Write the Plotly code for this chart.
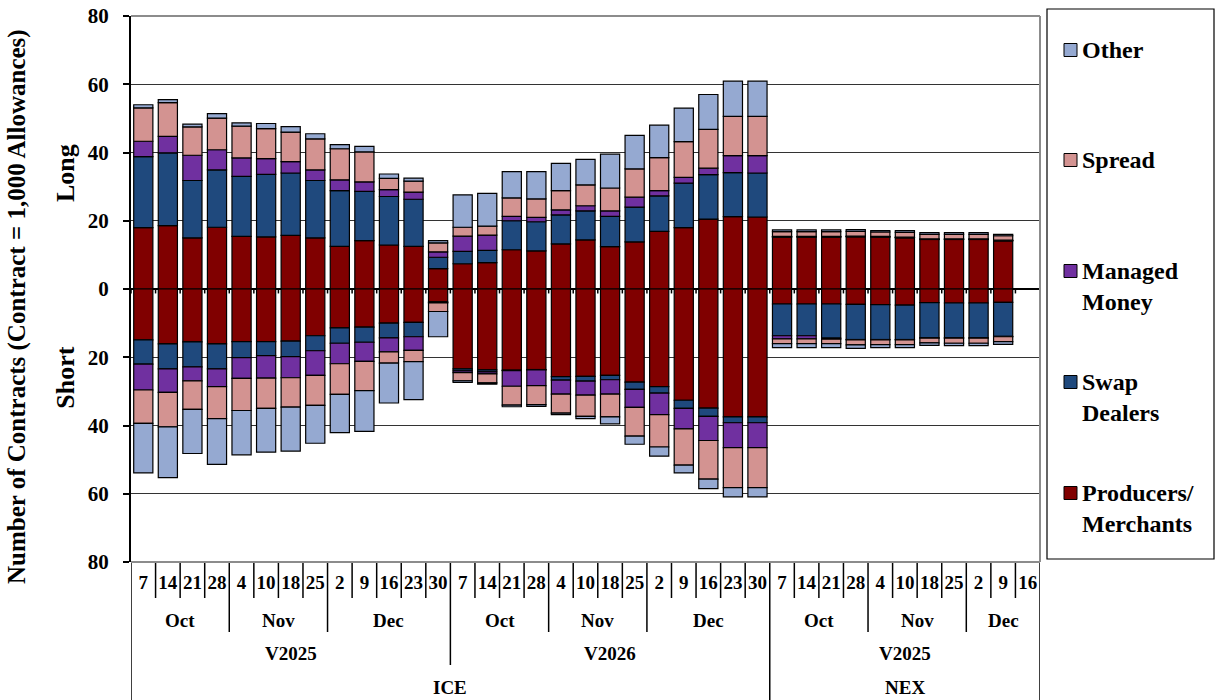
import plotly.graph_objects as go

# ---------------- data ----------------
contracts = [("ICE", "V2025"), ("ICE", "V2026"), ("NEX", "V2025")]
months_per_contract = [
    [("Oct", ["7", "14", "21", "28"]), ("Nov", ["4", "10", "18", "25"]), ("Dec", ["2", "9", "16", "23", "30"])],
    [("Oct", ["7", "14", "21", "28"]), ("Nov", ["4", "10", "18", "25"]), ("Dec", ["2", "9", "16", "23", "30"])],
    [("Oct", ["7", "14", "21", "28"]), ("Nov", ["4", "10", "18", "25"]), ("Dec", ["2", "9", "16"])],
]

series_names = ["Producers/<br>Merchants", "Swap<br>Dealers", "Managed<br>Money", "Spread", "Other"]
colors = ["#800000", "#1F497D", "#7030A0", "#D39391", "#95A9D1"]

# Long positions (thousand contracts)
long_prod = [18.0, 18.6, 15.0, 18.1, 15.4, 15.3, 15.7, 15.0, 12.5, 14.2, 12.9, 12.5, 6.0,
             7.4, 7.7, 11.5, 11.2, 13.2, 14.4, 12.4, 13.8, 16.9, 18.0, 20.5, 21.2, 21.1,
             15.2, 15.2, 15.2, 15.3, 15.2, 15.0, 14.5, 14.5, 14.5, 14.1, None]
long_swap = [20.8, 21.3, 16.8, 16.8, 17.6, 18.3, 18.3, 16.8, 16.3, 14.4, 14.2, 13.8, 3.3,
             3.6, 3.6, 8.5, 8.5, 8.5, 8.5, 8.9, 10.2, 10.4, 13.0, 13.0, 12.9, 12.9,
             0.1, 0.1, 0.1, 0.1, 0.1, 0.1, 0.1, 0.1, 0.1, 0.1, None]
long_mm = [4.5, 4.8, 7.4, 5.9, 5.4, 4.6, 3.3, 3.1, 3.2, 2.8, 2.0, 2.1, 1.6,
           4.5, 4.5, 1.3, 1.3, 1.5, 1.5, 1.6, 2.9, 1.5, 1.7, 1.9, 5.0, 5.1,
           0.1, 0.1, 0.1, 0.1, 0.1, 0.1, 0.1, 0.1, 0.1, 0.1, None]
long_spread = [9.8, 9.9, 8.3, 9.3, 9.3, 8.8, 8.7, 9.1, 9.1, 8.8, 3.3, 3.2, 2.6,
               2.6, 2.6, 5.4, 5.4, 5.6, 6.1, 6.7, 8.3, 9.7, 10.5, 11.4, 11.5, 11.5,
               1.4, 1.4, 1.4, 1.4, 1.3, 1.4, 1.3, 1.3, 1.3, 1.3, None]
long_other = [0.9, 0.9, 0.8, 1.3, 1.0, 1.5, 1.6, 1.5, 1.2, 1.6, 1.3, 0.9, 0.7,
              9.5, 9.6, 7.7, 8.0, 8.0, 7.5, 9.9, 9.8, 9.5, 9.8, 10.2, 10.3, 10.3,
              0.5, 0.5, 0.5, 0.5, 0.4, 0.5, 0.5, 0.5, 0.5, 0.4, None]

# Short positions (thousand contracts, shown below zero)
short_prod = [14.9, 16.1, 15.5, 16.1, 15.4, 15.4, 15.3, 13.7, 11.4, 11.2, 10.0, 9.8, 3.8,
              23.4, 23.7, 23.8, 23.6, 25.7, 25.6, 25.3, 27.3, 28.6, 32.6, 34.9, 37.5, 37.5,
              4.4, 4.4, 4.4, 4.5, 4.6, 4.7, 4.0, 4.1, 4.1, 3.9, None]
short_swap = [7.1, 7.3, 7.3, 7.3, 4.7, 4.1, 4.5, 4.4, 4.5, 4.4, 4.3, 4.2, 0.1,
              0.6, 0.6, 0.1, 0.1, 1.0, 1.4, 1.3, 2.1, 1.9, 2.4, 2.4, 1.7, 1.7,
              9.3, 9.3, 10.0, 10.3, 10.2, 10.1, 10.3, 10.2, 10.2, 10.0, None]
short_mm = [7.6, 6.9, 4.1, 5.2, 6.1, 6.6, 6.2, 7.2, 6.0, 5.6, 4.1, 4.0, 0.2,
            0.5, 0.6, 4.6, 4.6, 4.1, 4.1, 4.2, 5.3, 6.3, 6.0, 7.1, 7.3, 7.3,
            0.9, 0.9, 0.3, 0.1, 0.1, 0.1, 0.1, 0.1, 0.1, 0.1, None]
short_spread = [9.8, 10.1, 8.4, 9.4, 9.4, 8.9, 8.6, 8.8, 9.0, 8.6, 3.3, 3.3, 2.5,
                2.4, 2.6, 5.5, 5.6, 5.6, 6.2, 6.7, 8.4, 9.5, 10.6, 11.3, 11.7, 11.7,
                1.4, 1.4, 1.3, 1.5, 1.4, 1.4, 1.4, 1.5, 1.5, 1.4, None]
short_other = [14.5, 14.9, 12.9, 13.4, 13.0, 12.8, 12.9, 11.1, 11.2, 11.9, 11.7, 11.1, 7.4,
               0.5, 0.4, 0.5, 0.5, 0.4, 0.7, 2.0, 2.4, 2.7, 2.3, 2.8, 2.7, 2.7,
               1.2, 1.2, 1.2, 1.0, 0.9, 0.9, 0.7, 0.7, 0.7, 0.8, None]

y_tick_vals = [-80, -60, -40, -20, 0, 20, 40, 60, 80]
y_tick_text = ["80", "60", "40", "20", "0", "20", "40", "60", "80"]

# ---------------- build ----------------
FONT = "Liberation Serif, Times New Roman, serif"

def bfont(size):
    return dict(family=FONT, size=size, color="black", weight="bold")

date_labels = []
month_groups = []
contract_groups = []
exchange_groups = []
pos = 0
for (exch, cname), months in zip(contracts, months_per_contract):
    c_start = pos
    for mname, days in months:
        m_start = pos
        for d in days:
            date_labels.append(d)
            pos += 1
        month_groups.append((m_start, pos - 1, mname))
    contract_groups.append((c_start, pos - 1, cname))
    if exchange_groups and exchange_groups[-1][2] == exch:
        s = exchange_groups[-1][0]
        exchange_groups[-1] = (s, pos - 1, exch)
    else:
        exchange_groups.append((c_start, pos - 1, exch))

n = len(date_labels)
xs = list(range(n))

def neg(a):
    return [None if v is None else -v for v in a]

fig = go.Figure()
longs = [long_prod, long_swap, long_mm, long_spread, long_other]
shorts = [short_prod, short_swap, short_mm, short_spread, short_other]
for name, col, arr in zip(series_names, colors, longs):
    fig.add_trace(go.Bar(x=xs, y=arr, name=name,
                         marker=dict(color=col, line=dict(color="black", width=1.2)), showlegend=False))
for name, col, arr in zip(series_names, colors, shorts):
    fig.add_trace(go.Bar(x=xs, y=neg(arr), name=name,
                         marker=dict(color=col, line=dict(color="black", width=1.2)), showlegend=False))

# geometry (pixels of the 1215x700 page; body margin is removed by post_script)
W, H = 1215, 700
PL, PR, PT, PB = 131, 1040, 16, 562   # plot area
plot_h = PB - PT
plot_w = PR - PL

def py(pix):
    return (PB - pix) / plot_h

def px(pix):
    return (pix - PL) / plot_w

shapes = []
for k in range(n + 1):
    shapes.append(dict(type="line", xref="x", yref="y", x0=k - 0.5, x1=k - 0.5, y0=0, y1=-1.3,
                       line=dict(color="black", width=1.5)))

depth_date, depth_month, depth_contract, depth_exch = py(598), py(632), py(665), py(702)
month_bounds = {g[0] for g in month_groups}
contract_bounds = {g[0] for g in contract_groups}
exch_bounds = {g[0] for g in exchange_groups}
for k in range(n + 1):
    if k == 0 or k == n or k in exch_bounds:
        d = depth_exch
    elif k in contract_bounds:
        d = depth_contract
    elif k in month_bounds:
        d = depth_month
    else:
        d = depth_date
    shapes.append(dict(type="line", xref="x", yref="paper", x0=k - 0.5, x1=k - 0.5, y0=0, y1=d,
                       line=dict(color="black", width=1.5)))

for x0, x1, y0, y1 in [(0, 1, 1, 1), (1, 1, 0, 1), (0, 1, 0, 0)]:
    shapes.append(dict(type="line", xref="paper", yref="paper", x0=x0, x1=x1, y0=y0, y1=y1,
                       line=dict(color="#8c8c8c", width=2)))

annotations = []
for groups, ypix in [(month_groups, 620), (contract_groups, 653), (exchange_groups, 687)]:
    for s, e, lab in groups:
        annotations.append(dict(x=(s + e) / 2, y=py(ypix), xref="x", yref="paper", text=lab,
                                showarrow=False, font=bfont(19), xanchor="center", yanchor="middle"))

annotations.append(dict(x=px(17), y=py(307), xref="paper", yref="paper",
                        text="Number of Contracts (Contract = 1,000 Allowances)", textangle=-90,
                        showarrow=False, font=bfont(25), xanchor="center", yanchor="middle"))
annotations.append(dict(x=px(66), y=34, xref="paper", yref="y", text="Long", textangle=-90,
                        showarrow=False, font=bfont(26), xanchor="center", yanchor="middle"))
annotations.append(dict(x=px(66), y=-26, xref="paper", yref="y", text="Short", textangle=-90,
                        showarrow=False, font=bfont(26), xanchor="center", yanchor="middle"))

# legend box
shapes.append(dict(type="rect", xref="paper", yref="paper", x0=px(1047), x1=px(1214), y0=py(9), y1=py(559),
                   line=dict(color="black", width=1.2), fillcolor="white"))
legend_rows = [("Other", 50, colors[4]), ("Spread", 160, colors[3]), ("Managed<br>Money", 271, colors[2]),
               ("Swap<br>Dealers", 382, colors[1]), ("Producers/<br>Merchants", 493, colors[0])]
for lab, yc, col in legend_rows:
    shapes.append(dict(type="rect", xref="paper", yref="paper", x0=px(1064), x1=px(1077),
                       y0=py(yc + 6.5), y1=py(yc - 6.5), fillcolor=col,
                       line=dict(color="black", width=1)))
    annotations.append(dict(x=px(1080), y=py(yc - 15), xref="paper", yref="paper", text=lab,
                            showarrow=False, xanchor="left", yanchor="top", align="left",
                            font=bfont(24)))

fig.update_layout(
    width=W, height=H,
    margin=dict(l=PL, r=W - PR, t=PT, b=H - PB, autoexpand=False),
    barmode="relative",
    bargap=0.22,
    plot_bgcolor="white",
    paper_bgcolor="white",
    showlegend=False,
    hovermode=False,
    shapes=shapes,
    annotations=annotations,
    xaxis=dict(
        range=[-0.5, n - 0.5],
        tickmode="array", tickvals=xs, ticktext=date_labels,
        tickfont=bfont(19),
        ticks="", showgrid=False, zeroline=False, showline=False,
        ticklabelstandoff=7,
    ),
    yaxis=dict(
        range=[-80, 80],
        tickmode="array", tickvals=y_tick_vals, ticktext=y_tick_text,
        tickfont=bfont(21),
        ticks="outside", ticklen=6, tickcolor="black", tickwidth=1.5,
        showgrid=True, gridcolor="#333333", gridwidth=1,
        zeroline=True, zerolinecolor="black", zerolinewidth=2,
        showline=True, linecolor="black", linewidth=2,
        ticklabelstandoff=10, ticklabeloverflow="allow",
    ),
)

fig.write_html("out.html", config={"displayModeBar": False},
               post_script="document.body.style.margin='0px';document.body.style.overflow='hidden';")
